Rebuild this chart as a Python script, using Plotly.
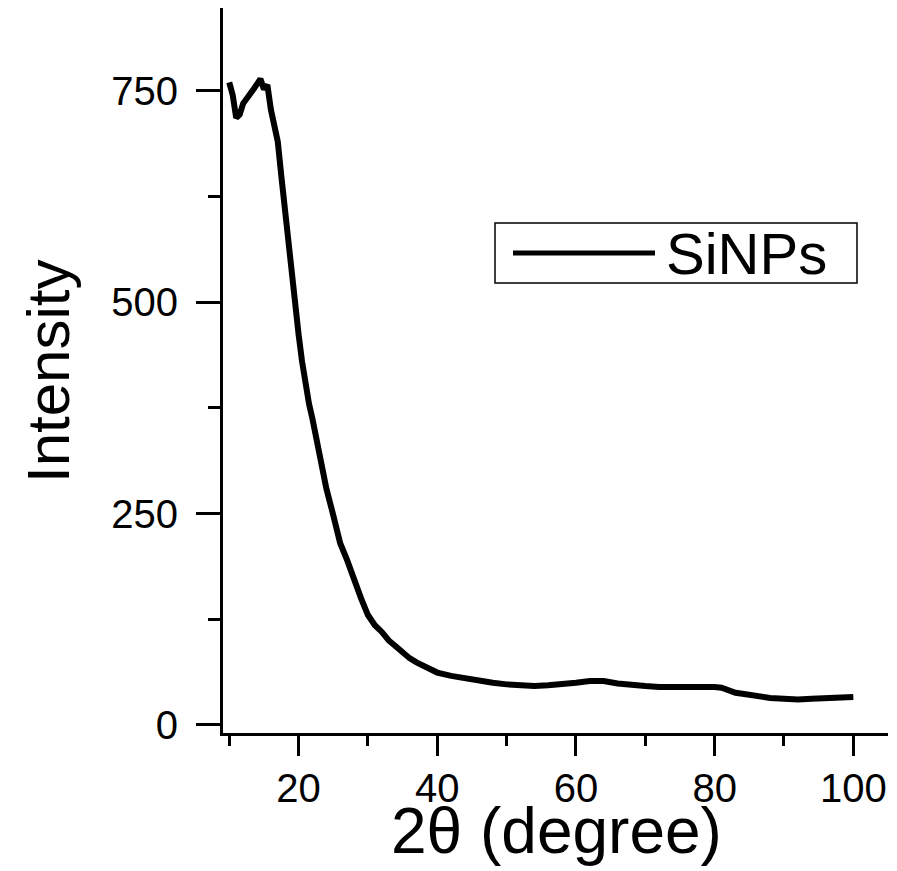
import plotly.graph_objects as go

# 2-theta (degree)
two_theta = [10, 10.5, 11, 11.5, 12, 12.5, 13, 13.5, 14, 14.5, 15, 15.5, 16, 16.5,
             17, 17.5, 18, 18.5, 19, 19.5, 20, 20.5, 21, 21.5, 22, 22.5, 23, 24,
             25, 26, 27, 28, 29, 30, 31, 32, 33, 34, 35, 36, 37, 38, 39, 40, 42,
             44, 46, 48, 50, 52, 54, 56, 58, 60, 62, 64, 66, 68, 70, 72, 74, 76,
             78, 80, 81, 82, 83, 84, 86, 88, 90, 92, 94, 96, 98, 100]
# Intensity
intensity = [760, 745, 718, 722, 735, 740, 745, 752, 758, 764, 752, 757, 728, 712,
             690, 650, 610, 573, 540, 502, 462, 430, 400, 380, 362, 342, 318, 280,
             248, 215, 195, 170, 150, 130, 118, 110, 100, 93, 85, 79, 74, 70, 66, 62, 58,
             55, 52, 50, 48, 47, 46, 47, 48, 50, 52, 52, 49, 47, 46, 45, 45, 45,
             46, 45, 44, 41, 38, 37, 34, 32, 31, 30, 31, 32, 33, 33]

series_name = "SiNPs"
x_title = "2θ (degree)"
y_title = "Intensity"
x_ticks = [20, 40, 60, 80, 100]
y_ticks = [0, 250, 500, 750]

FONT = "Liberation Sans, Arial, sans-serif"

OFF = 8  # page body margin offset
W, H = 897 - OFF, 871 - OFF
L, R, T, B = 223 - OFF, 888 - OFF, 0, 733 - OFF
PW, PH = R - L, B - T


def px(xp):
    return (xp - OFF - L) / PW


def py(yp):
    return (B - (yp - OFF)) / PH


fig = go.Figure()
fig.add_trace(go.Scatter(x=two_theta, y=intensity, mode="lines", name=series_name,
                         line=dict(color="black", width=6), showlegend=False))

fig.update_layout(
    width=W, height=H,
    margin=dict(l=L, r=W - R, t=T, b=H - B, pad=0),
    paper_bgcolor="white", plot_bgcolor="white",
    font=dict(family=FONT, color="black"),
    xaxis=dict(range=[9.1, 105], showline=True, linewidth=3, linecolor="black",
               showgrid=False, zeroline=False, tickvals=x_ticks, ticks="outside",
               ticklen=20, tickwidth=3, tickcolor="black", automargin=False,
               tickfont=dict(size=40, family=FONT), ticklabelstandoff=-2,
               minor=dict(tickvals=[10, 30, 50, 70, 90], ticks="outside", ticklen=10,
                          tickwidth=3, tickcolor="black")),
    yaxis=dict(range=[-9.5, 848], showline=True, linewidth=3, linecolor="black",
               showgrid=False, zeroline=False, tickvals=y_ticks, ticks="outside",
               ticklen=24, tickwidth=3, tickcolor="black", automargin=False,
               tickfont=dict(size=40, family=FONT), ticklabelstandoff=10,
               minor=dict(tickvals=[125, 375, 625], ticks="outside", ticklen=12,
                          tickwidth=3, tickcolor="black")),
    shapes=[
        dict(type="rect", xref="paper", yref="paper",
             x0=px(495), x1=px(857), y0=py(283), y1=py(223),
             line=dict(color="black", width=1.5), fillcolor="white"),
        dict(type="line", xref="paper", yref="paper",
             x0=px(513), x1=px(655), y0=py(253), y1=py(253),
             line=dict(color="black", width=5)),
    ],
    annotations=[
        dict(text=series_name, xref="paper", yref="paper",
             x=px(664), y=py(254), xanchor="left", yanchor="middle",
             showarrow=False, font=dict(size=58, family=FONT, color="black")),
        dict(text=x_title, xref="paper", yref="paper",
             x=px(556), y=py(831), xanchor="center", yanchor="middle",
             showarrow=False, font=dict(size=64, family=FONT, color="black")),
        dict(text=y_title, xref="paper", yref="paper", textangle=-90,
             x=px(48), y=py(372), xanchor="center", yanchor="middle",
             showarrow=False, font=dict(size=60, family=FONT, color="black")),
    ],
)

fig.write_html("out.html")
